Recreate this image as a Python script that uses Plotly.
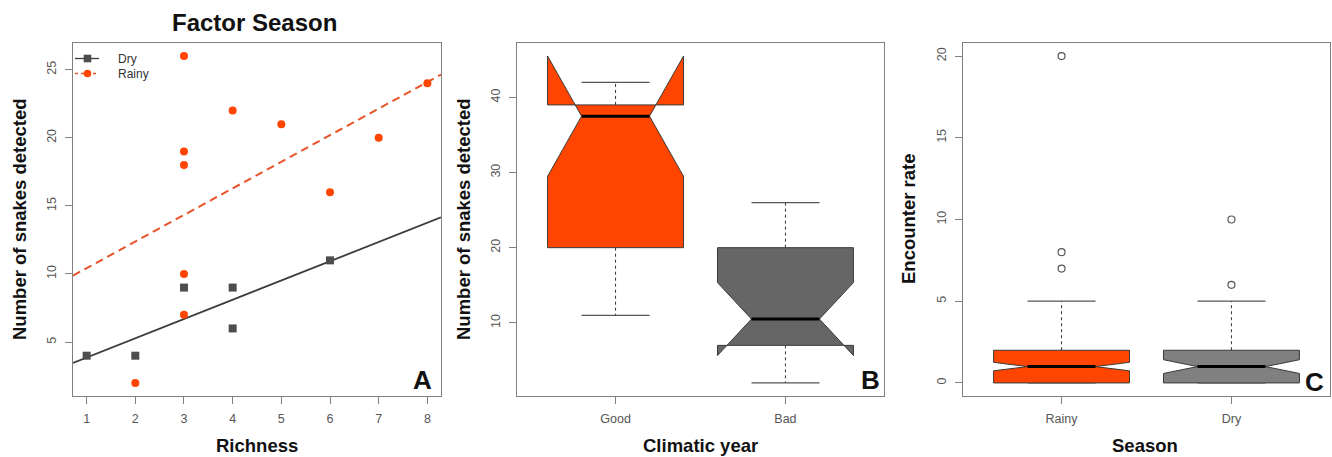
import numpy as np
import plotly.graph_objects as go

W, H = 1332, 457

# ---------------- Panel A data ----------------
dry_richness = [1, 2, 3, 4, 4, 6]
dry_snakes = [4, 4, 9, 9, 6, 11]
rainy_richness = [2, 3, 3, 3, 3, 3, 4, 5, 6, 7, 8]
rainy_snakes = [2, 26, 19, 18, 10, 7, 22, 21, 16, 20, 24]
a_xticks = [1, 2, 3, 4, 5, 6, 7, 8]
a_yticks = [5, 10, 15, 20, 25]
legend_labels = ["Dry", "Rainy"]

# ---------------- Panel B data (box statistics) ----------------
b_categories = ["Good", "Bad"]
b_whisk_lo = [11, 2]
b_q1 = [20, 7]
b_median = [37.5, 10.5]
b_q3 = [39, 20]
b_whisk_hi = [42, 26]
b_notch_lo = [29.5, 5.65]
b_notch_hi = [45.5, 15.35]
b_outliers = [[], []]
b_yticks = [10, 20, 30, 40]

# ---------------- Panel C data (box statistics) ----------------
c_categories = ["Rainy", "Dry"]
c_whisk_lo = [0, 0]
c_q1 = [0, 0]
c_median = [1, 1]
c_q3 = [2, 2]
c_whisk_hi = [5, 5]
c_notch_lo = [0.74, 0.58]
c_notch_hi = [1.26, 1.42]
c_outliers = [[20, 8, 7], [10, 6]]
c_yticks = [0, 5, 10, 15, 20]

ORANGE = "#FF4500"
DARK = "#4D4D4D"
DRY_LINE = "#3c3c3c"
RAINY_LINE = "#E8532A"
GRAY_B = "#666666"
GRAY_C = "#808080"
FRAME = "#808080"
FONT = "Liberation Sans, Arial, sans-serif"
TICKFONT = dict(family=FONT, size=12.5, color="#555555")

# pixel layout
left_px = [73, 517, 963]
right_px = [441, 884, 1330]
top_px, bot_px = 43, 396
ydom = [1 - bot_px / H, 1 - top_px / H]

fig = go.Figure()


def ext(lo, hi):
    d = (hi - lo) * 0.04
    return [lo - d, hi + d]


# ---- Panel A ----
xr_a = ext(min(a_xticks), max(a_xticks))
yr_a = ext(min(dry_snakes + rainy_snakes), max(dry_snakes + rainy_snakes))

cd = np.polyfit(dry_richness, dry_snakes, 1)
cr = np.polyfit(rainy_richness, rainy_snakes, 1)
xl = np.array(xr_a)

fig.add_trace(go.Scatter(x=xl, y=np.polyval(cd, xl), mode="lines",
                         line=dict(color=DRY_LINE, width=1.8), showlegend=False,
                         xaxis="x", yaxis="y", hoverinfo="skip"))
fig.add_trace(go.Scatter(x=xl, y=np.polyval(cr, xl), mode="lines",
                         line=dict(color=RAINY_LINE, width=2, dash="8px,5px"), showlegend=False,
                         xaxis="x", yaxis="y", hoverinfo="skip"))
fig.add_trace(go.Scatter(x=dry_richness, y=dry_snakes, mode="markers",
                         marker=dict(symbol="square", size=8, color=DARK),
                         showlegend=False, xaxis="x", yaxis="y", name="Dry"))
fig.add_trace(go.Scatter(x=rainy_richness, y=rainy_snakes, mode="markers",
                         marker=dict(symbol="circle", size=8, color=ORANGE),
                         showlegend=False, xaxis="x", yaxis="y", name="Rainy"))


# ---- Box helper ----
def add_boxes(xa, ya, cats, wlo, q1, med, q3, whi, nlo, nhi, outl, colors):
    hw = 0.4
    for i in range(len(cats)):
        x0 = i + 1
        fig.add_trace(go.Scatter(x=[x0, x0, None, x0, x0], y=[q3[i], whi[i], None, q1[i], wlo[i]],
                                 mode="lines", line=dict(color="#333333", width=1, dash="3px,3px"),
                                 showlegend=False, xaxis=xa, yaxis=ya, hoverinfo="skip"))
        fig.add_trace(go.Scatter(x=[x0 - hw / 2, x0 + hw / 2, None, x0 - hw / 2, x0 + hw / 2],
                                 y=[whi[i], whi[i], None, wlo[i], wlo[i]],
                                 mode="lines", line=dict(color="#555555", width=1.2),
                                 showlegend=False, xaxis=xa, yaxis=ya, hoverinfo="skip"))
        px = [x0 - hw, x0 - hw, x0 - hw / 2, x0 - hw, x0 - hw, x0 + hw, x0 + hw, x0 + hw / 2, x0 + hw, x0 + hw, x0 - hw]
        py = [q1[i], nlo[i], med[i], nhi[i], q3[i], q3[i], nhi[i], med[i], nlo[i], q1[i], q1[i]]
        fig.add_trace(go.Scatter(x=px, y=py, mode="lines", fill="toself", fillcolor=colors[i],
                                 line=dict(color="#3a3a3a", width=1),
                                 showlegend=False, xaxis=xa, yaxis=ya, hoverinfo="skip", name=cats[i]))
        fig.add_trace(go.Scatter(x=[x0 - hw / 2, x0 + hw / 2], y=[med[i], med[i]], mode="lines",
                                 line=dict(color="#000000", width=3),
                                 showlegend=False, xaxis=xa, yaxis=ya, hoverinfo="skip"))
        if outl[i]:
            fig.add_trace(go.Scatter(x=[x0] * len(outl[i]), y=outl[i], mode="markers",
                                     marker=dict(symbol="circle-open", size=7, color="#555555",
                                                 line=dict(width=1.2)),
                                     showlegend=False, xaxis=xa, yaxis=ya))


add_boxes("x2", "y2", b_categories, b_whisk_lo, b_q1, b_median, b_q3, b_whisk_hi,
          b_notch_lo, b_notch_hi, b_outliers, [ORANGE, GRAY_B])
add_boxes("x3", "y3", c_categories, c_whisk_lo, c_q1, c_median, c_q3, c_whisk_hi,
          c_notch_lo, c_notch_hi, c_outliers, [ORANGE, GRAY_C])

b_all = b_whisk_lo + b_whisk_hi + b_notch_lo + b_notch_hi + sum(b_outliers, [])
c_all = c_whisk_lo + c_whisk_hi + c_notch_lo + c_notch_hi + sum(c_outliers, [])
yr_b = ext(min(b_all), max(b_all))
yr_c = ext(min(c_all), max(c_all))
xr_box = ext(0.5, 2.5)

axis_common = dict(showline=True, mirror=True, linecolor=FRAME, linewidth=1.3,
                   ticks="outside", ticklen=7, tickwidth=1, tickcolor=FRAME,
                   showgrid=False, zeroline=False, tickfont=TICKFONT)


def xdom(i):
    return [left_px[i] / W, right_px[i] / W]


fig.update_layout(
    width=W, height=H, margin=dict(l=0, r=0, t=0, b=0),
    paper_bgcolor="white", plot_bgcolor="white", showlegend=False,
    xaxis=dict(domain=xdom(0), range=xr_a, tickvals=a_xticks, ticklabelstandoff=4, anchor="y", **axis_common),
    yaxis=dict(domain=ydom, range=yr_a, tickvals=a_yticks, tickangle=-90, ticklabelstandoff=4, anchor="x", **axis_common),
    xaxis2=dict(domain=xdom(1), range=xr_box, tickvals=[1, 2], ticktext=b_categories, ticklabelstandoff=4, anchor="y2", **axis_common),
    yaxis2=dict(domain=ydom, range=yr_b, tickvals=b_yticks, tickangle=-90, ticklabelstandoff=4, anchor="x2", **axis_common),
    xaxis3=dict(domain=xdom(2), range=xr_box, tickvals=[1, 2], ticktext=c_categories, ticklabelstandoff=4, anchor="y3", **axis_common),
    yaxis3=dict(domain=ydom, range=yr_c, tickvals=c_yticks, tickangle=-90, ticklabelstandoff=4, anchor="x3", **axis_common),
)

ann = []
shapes = []


def px2paper(x, y):
    return x / W, 1 - y / H


def txt(x, y, s, size, angle=0, bold=True, color="#111111", xanchor="center"):
    ann.append(dict(x=x / W, y=1 - y / H, xref="paper", yref="paper", text=f"<b>{s}</b>" if bold else s,
                    showarrow=False, textangle=angle, xanchor=xanchor, yanchor="middle",
                    font=dict(family=FONT, size=size, color=color)))


txt(255, 22, "Factor Season", 24)
txt(19, 219, "Number of snakes detected", 18.5, -90)
txt(463, 219, "Number of snakes detected", 18.5, -90)
txt(908, 219, "Encounter rate", 18.5, -90)
txt(257, 445, "Richness", 18.5)
txt(700, 445, "Climatic year", 18.5)
txt(1145, 445, "Season", 18.5)
txt(422, 380, "A", 26)
txt(871, 380, "B", 26)
txt(1314, 382, "C", 26)

# manual legend (R style) for panel A
leg_rows = [58.5, 73.5]
leg_styles = [dict(line=DRY_LINE, dash="solid", marker=DARK, kind="rect"),
              dict(line=RAINY_LINE, dash="3px,3px", marker=ORANGE, kind="circle")]
for lab, yy, st in zip(legend_labels, leg_rows, leg_styles):
    x0, y0 = px2paper(75, yy)
    x1, _ = px2paper(99, yy)
    shapes.append(dict(type="line", xref="paper", yref="paper", x0=x0, y0=y0, x1=x1, y1=y0,
                       line=dict(color=st["line"], width=1.3, dash=st["dash"])))
    cx, cy = 87.5, yy
    a0 = px2paper(cx - 3.8, cy + 3.8)
    a1 = px2paper(cx + 3.8, cy - 3.8)
    shapes.append(dict(type=st["kind"], xref="paper", yref="paper", x0=a0[0], y0=a0[1], x1=a1[0], y1=a1[1],
                       fillcolor=st["marker"], line=dict(width=0)))
    txt(116, yy, lab, 12, bold=False, color="#333333", xanchor="left")

fig.update_layout(annotations=ann, shapes=shapes)

fig.write_html("out.html")
